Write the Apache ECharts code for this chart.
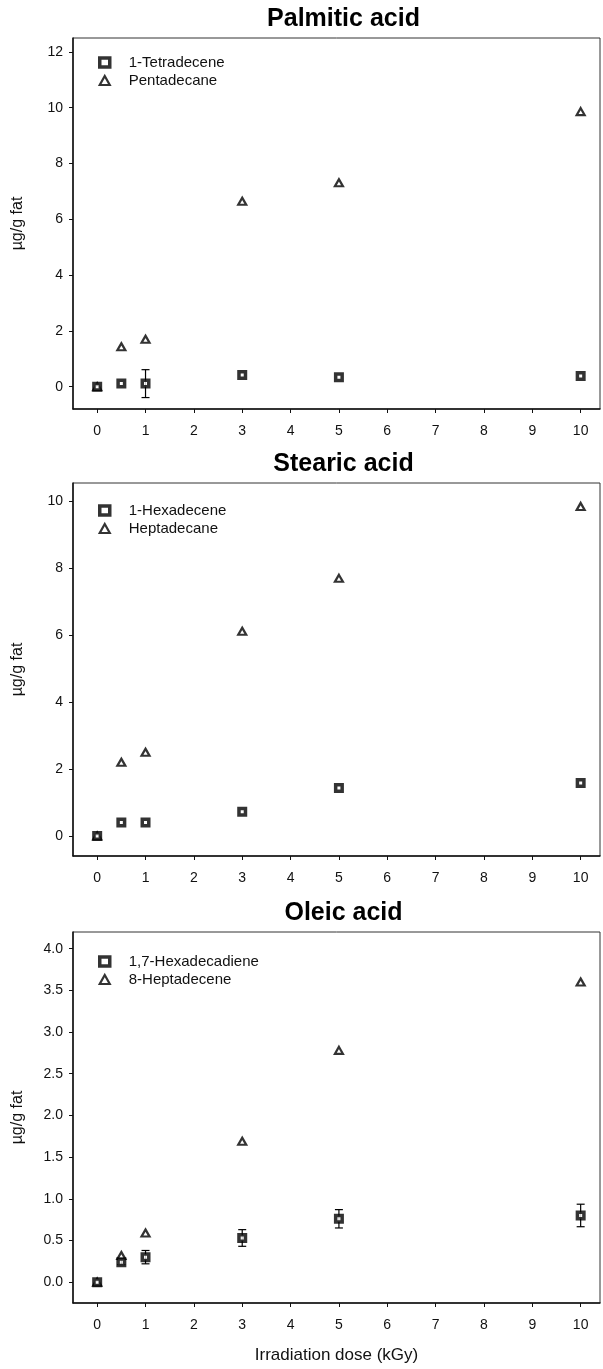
<!DOCTYPE html>
<html>
<head>
<meta charset="utf-8">
<script src="https://cdn.jsdelivr.net/npm/echarts@6/dist/echarts.min.js"></script>
<style>
html,body{margin:0;padding:0;background:#fff;}
#chart{width:603px;height:1369px;}
</style>
</head>
<body>
<div id="chart"></div>
<script>
// ---- data ----
const doses = [0, 0.5, 1, 3, 5, 10];
const xTicks = [0, 1, 2, 3, 4, 5, 6, 7, 8, 9, 10];

const panelTitles = ['Palmitic acid', 'Stearic acid', 'Oleic acid'];

const palmTetradecene    = [0, 0.11, 0.11, 0.42, 0.34, 0.38];
const palmTetradeceneErr = [0, 0, 0.5, 0, 0, 0];
const palmPentadecane    = [0, 1.43, 1.70, 6.65, 7.31, 9.86];
const palmYTicks = [0, 2, 4, 6, 8, 10, 12];

const stearHexadecene    = [0, 0.40, 0.40, 0.72, 1.43, 1.58];
const stearHexadeceneErr = [0, 0, 0, 0, 0, 0];
const stearHeptadecane   = [0, 2.2, 2.5, 6.12, 7.7, 9.85];
const stearYTicks = [0, 2, 4, 6, 8, 10];

const oleicHexadecadiene    = [0, 0.24, 0.30, 0.53, 0.76, 0.80];
const oleicHexadecadieneErr = [0, 0.03, 0.08, 0.10, 0.11, 0.135];
const oleicHeptadecene      = [0, 0.32, 0.59, 1.69, 2.78, 3.6];
const oleicYTicks = [0, 0.5, 1.0, 1.5, 2.0, 2.5, 3.0, 3.5, 4.0];

const seriesNames = [
  ['1-Tetradecene', 'Pentadecane'],
  ['1-Hexadecene', 'Heptadecane'],
  ['1,7-Hexadecadiene', '8-Heptadecene']
];

// ---- layout ----
const FONT = 'Liberation Sans, Arial, sans-serif';
const INK = '#111';
const grids = [
  {left: 73, top: 38, width: 527, height: 371},
  {left: 73, top: 483, width: 527, height: 373},
  {left: 73, top: 932, width: 527, height: 371}
];
const legendOffsets = [24, 27, 29];
const yRanges = [[-0.8, 12.5], [-0.6, 10.55], [-0.25, 4.2]];
const yTickSets = [palmYTicks, stearYTicks, oleicYTicks];
const squares = [palmTetradecene, stearHexadecene, oleicHexadecadiene];
const squareErrs = [palmTetradeceneErr, stearHexadeceneErr, oleicHexadecadieneErr];
const triangles = [palmPentadecane, stearHeptadecane, oleicHeptadecene];

const chart = echarts.init(document.getElementById('chart'), null, {renderer: 'canvas'});

const option = {
  backgroundColor: '#fff',
  animation: false,
  title: [], grid: [], xAxis: [], yAxis: [], legend: [], series: []
};

const squareStyle = {color: '#fff', borderColor: '#000', borderWidth: 3.5};
const triStyle = {color: '#fff', borderColor: '#000', borderWidth: 2.2};

for (let i = 0; i < 3; i++) {
  const g = grids[i];
  option.grid.push(Object.assign({show: true, borderColor: '#333', borderWidth: 1, backgroundColor: 'transparent'}, g));
  option.title.push({
    text: panelTitles[i],
    left: g.left + g.width / 2 + 2,
    textAlign: 'center',
    top: g.top - 36,
    textStyle: {fontFamily: FONT, fontWeight: 'bold', fontSize: 25, color: '#000'}
  });
  option.xAxis.push({
    type: 'value', gridIndex: i, min: -0.5, max: 10.4,
    axisLine: {show: true, onZero: false, lineStyle: {color: INK, width: 1.5}},
    axisTick: {show: true, inside: false, length: 4, lineStyle: {color: INK}, customValues: xTicks},
    axisLabel: {show: true, margin: 15, fontFamily: FONT, fontSize: 14, color: INK, customValues: xTicks},
    splitLine: {show: false},
    name: i === 2 ? 'Irradiation dose (kGy)' : '',
    nameLocation: 'middle', nameGap: 44,
    nameTextStyle: {fontFamily: FONT, fontSize: 17, color: INK}
  });
  const yt = yTickSets[i];
  option.yAxis.push({
    type: 'value', gridIndex: i, min: yRanges[i][0], max: yRanges[i][1],
    axisLine: {show: true, onZero: false, lineStyle: {color: INK, width: 1.5}},
    axisTick: {show: true, inside: false, length: 4, lineStyle: {color: INK}, customValues: yt},
    axisLabel: {show: true, margin: 10, fontFamily: FONT, fontSize: 14, color: INK, customValues: yt,
      formatter: v => (i === 2 ? Number(v).toFixed(1) : String(Math.round(v)))},
    splitLine: {show: false},
    name: 'µg/g fat', nameLocation: 'middle', nameRotate: 90, nameGap: 47,
    nameTextStyle: {fontFamily: FONT, fontSize: 16, color: INK}
  });
  option.legend.push({
    orient: 'vertical',
    left: 93, top: g.top + legendOffsets[i] - 12,
    itemWidth: 10, itemHeight: 9, itemGap: 3,
    selectedMode: false,
    data: [
      {name: seriesNames[i][0], icon: 'rect', itemStyle: squareStyle},
      {name: seriesNames[i][1], icon: 'triangle', itemStyle: triStyle}
    ],
    textStyle: {fontFamily: FONT, fontSize: 15, color: INK, padding: [0, 0, 0, 14]}
  });
  // triangles
  option.series.push({
    type: 'scatter', name: seriesNames[i][1], xAxisIndex: i, yAxisIndex: i,
    symbol: 'triangle', symbolSize: [8, 7],
    itemStyle: triStyle, z: 3,
    data: doses.map((d, k) => [d, triangles[i][k]])
  });
  // error bars for squares
  const errData = doses.map((d, k) => [d, squares[i][k], squareErrs[i][k]]).filter(r => r[2] > 0);
  option.series.push({
    type: 'custom', name: 'err' + i, xAxisIndex: i, yAxisIndex: i, z: 2,
    silent: true,
    renderItem: function (params, api) {
      const x = api.value(0), y = api.value(1), e = api.value(2);
      const top = api.coord([x, y + e]);
      const bot = api.coord([x, y - e]);
      const w = 4;
      const st = {stroke: '#000', lineWidth: 1.2};
      return {type: 'group', children: [
        {type: 'line', shape: {x1: top[0], y1: top[1], x2: bot[0], y2: bot[1]}, style: st},
        {type: 'line', shape: {x1: top[0] - w, y1: top[1], x2: top[0] + w, y2: top[1]}, style: st},
        {type: 'line', shape: {x1: bot[0] - w, y1: bot[1], x2: bot[0] + w, y2: bot[1]}, style: st}
      ]};
    },
    data: errData
  });
  // squares
  option.series.push({
    type: 'scatter', name: seriesNames[i][0], xAxisIndex: i, yAxisIndex: i,
    symbol: 'rect', symbolSize: 6.5,
    itemStyle: squareStyle, z: 4,
    data: doses.map((d, k) => [d, squares[i][k]])
  });
}

chart.setOption(option);
</script>
</body>
</html>
